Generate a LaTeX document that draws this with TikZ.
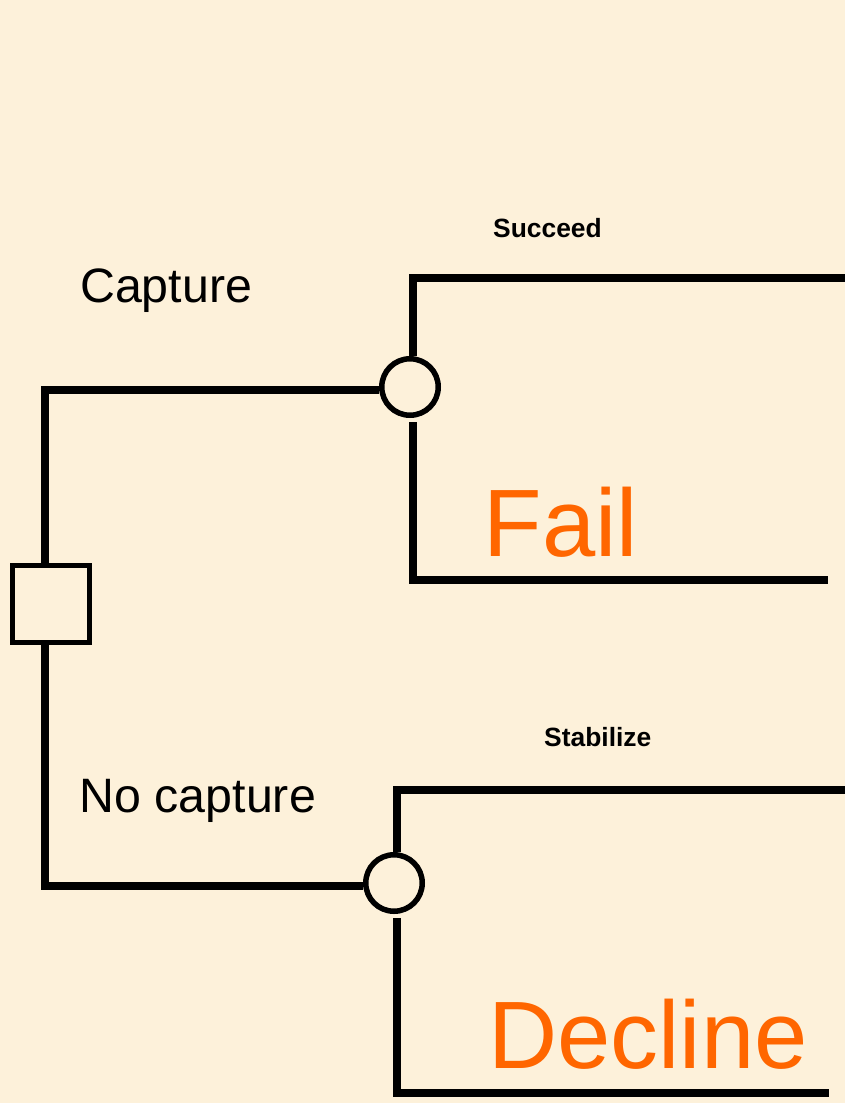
\documentclass[tikz,border=0pt]{standalone}
\usepackage{fontspec}
\setmainfont{Liberation Sans}
\definecolor{parchment}{HTML}{FDF1DA}
\definecolor{outcome}{HTML}{FF6600}
\begin{document}
\begin{tikzpicture}[x=1pt,y=-1pt,
  branch/.style={line width=7.5pt, line join=miter},
  decision/.style={draw, rectangle, line width=5.5pt, minimum size=77pt, inner sep=0pt},
  chance/.style={draw, circle, line width=5.5pt, minimum size=56.5pt, inner sep=0pt},
  choicelabel/.style={anchor=base west, inner sep=0pt, font=\fontsize{48.3}{50}\selectfont},
  eventlabel/.style={anchor=base west, inner sep=0pt, font=\fontsize{26.4}{28}\selectfont\bfseries},
  resultlabel/.style={anchor=base west, inner sep=0pt, text=outcome, font=\fontsize{95.8}{98}\selectfont}]

% background
\fill[parchment] (0,0) rectangle (845,1103);
\useasboundingbox (0,0) rectangle (845,1103);

% nodes of the tree
\node[decision] (dec) at (51,604) {};
\node[chance] (c1) at (410,387) {};
\node[chance] (c2) at (394,883) {};

% corner and end points of the branches
\coordinate (t1) at (45,390);
\coordinate (t2) at (45,886);
\coordinate (s1) at (413,278);
\coordinate (s1end) at (845,278);
\coordinate (f1top) at (413,422);
\coordinate (f1) at (413,580);
\coordinate (f1end) at (828,580);
\coordinate (s2) at (397,790);
\coordinate (s2end) at (845,790);
\coordinate (f2top) at (397,918);
\coordinate (f2) at (397,1093);
\coordinate (f2end) at (829,1093);

% decision branches
\draw[branch] (t1 |- dec.north) -- (t1) -- (c1.west |- t1);
\draw[branch] (t2 |- dec.south) -- (t2) -- (c2.west |- t2);

% chance branches
\draw[branch] (s1 |- c1.north) -- (s1) -- (s1end);
\draw[branch] (f1top) -- (f1) -- (f1end);
\draw[branch] (s2 |- c2.north) -- (s2) -- (s2end);
\draw[branch] (f2top) -- (f2) -- (f2end);

% labels
\node[choicelabel] (lcap) at (80,302) {Capture};
\node[choicelabel] (lnocap) at (79.5,812) {No capture};
\node[eventlabel] (lsucc) at (493,237) {Succeed};
\node[eventlabel] (lstab) at (544,746) {Stabilize};
\node[resultlabel] (lfail) at (483.5,556) {Fail};
\node[resultlabel] (ldecl) at (488,1068) {Decline};
\end{tikzpicture}
\end{document}
